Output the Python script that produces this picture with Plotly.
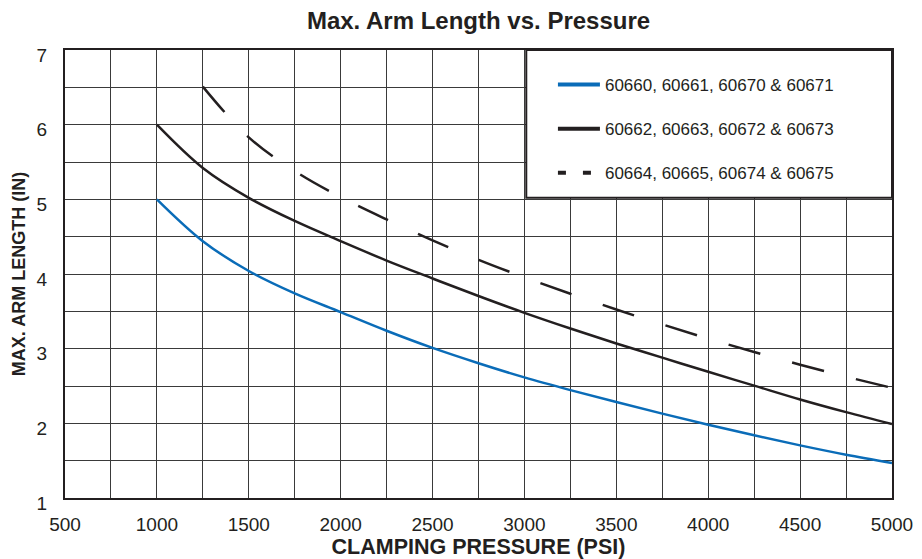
import plotly.graph_objects as go

# Data
pressure = [1000, 1250, 1500, 1750, 2000, 2250, 2500, 2750, 3000,
            3250, 3500, 3750, 4000, 4250, 4500, 4750, 5000]
arm_blue = [5.0, 4.44, 4.04, 3.74, 3.49, 3.24, 3.01, 2.805, 2.615,
            2.445, 2.285, 2.13, 1.98, 1.84, 1.705, 1.58, 1.47]
arm_black = [6.0, 5.42, 5.02, 4.71, 4.44, 4.18, 3.94, 3.705, 3.48,
             3.27, 3.07, 2.88, 2.69, 2.505, 2.32, 2.15, 1.99]
pressure_dash = [1250, 1500, 1750, 2000, 2250, 2500, 2750, 3000,
                 3250, 3500, 3750, 4000, 4250, 4500, 4750, 5000]
arm_dash = [6.51, 5.83, 5.38, 5.03, 4.73, 4.45, 4.19, 3.955,
            3.735, 3.525, 3.325, 3.135, 2.955, 2.785, 2.625, 2.475]

names = ["60660, 60661, 60670 & 60671",
         "60662, 60663, 60672 & 60673",
         "60664, 60665, 60674 & 60675"]

x_ticks = [500, 1000, 1500, 2000, 2500, 3000, 3500, 4000, 4500, 5000]
y_ticks = [1, 2, 3, 4, 5, 6, 7]

FONT = "Liberation Sans, Arial, sans-serif"
INK = "#231f20"
BLUE = "#0a6cb8"
GRID = "#3a3a3a"

fig = go.Figure()
# plotted curves
fig.add_trace(go.Scatter(x=pressure, y=arm_blue, mode="lines", showlegend=False,
                         line=dict(color=BLUE, width=2.5, shape="spline")))
fig.add_trace(go.Scatter(x=pressure, y=arm_black, mode="lines", showlegend=False,
                         line=dict(color=INK, width=2.5, shape="spline")))
fig.add_trace(go.Scatter(x=pressure_dash, y=arm_dash, mode="lines", showlegend=False,
                         line=dict(color=INK, width=2.5, shape="spline", dash="33px,33px")))
# legend entries (thicker sample strokes as in the reference)
fig.add_trace(go.Scatter(x=[None], y=[None], mode="lines", name=names[0], legendgroup="a",
                         line=dict(color=BLUE, width=4)))
fig.add_trace(go.Scatter(x=[None], y=[None], mode="lines", name=names[1], legendgroup="b",
                         line=dict(color=INK, width=4)))
fig.add_trace(go.Scatter(x=[None], y=[None], mode="lines", name=names[2], legendgroup="c",
                         line=dict(color=INK, width=4, dash="8px,17px")))

# Legend box (white panel with dark border)
fig.add_shape(type="rect", xref="x", yref="y", x0=3010, x1=5000, y0=5.02, y1=7,
              fillcolor="white", line=dict(color=INK, width=2), layer="between")

fig.update_xaxes(range=[500, 5000], tickvals=x_ticks,
                 showgrid=True, gridcolor=GRID, gridwidth=1,
                 minor=dict(dtick=250, tick0=500, showgrid=True, gridcolor=GRID, gridwidth=1),
                 showline=True, linecolor=INK, linewidth=2, mirror=True,
                 ticks="", ticklabelstandoff=8, automargin=False,
                 tickfont=dict(family=FONT, size=19, color=INK),
                 title=dict(text="<b>CLAMPING PRESSURE (PSI)</b>", standoff=16,
                            font=dict(family=FONT, size=21.5, color=INK)),
                 zeroline=False)
fig.update_yaxes(range=[1, 7], tickvals=y_ticks,
                 showgrid=True, gridcolor=GRID, gridwidth=1,
                 minor=dict(dtick=0.5, tick0=1, showgrid=True, gridcolor=GRID, gridwidth=1),
                 showline=True, linecolor=INK, linewidth=2, mirror=True,
                 ticks="", ticklabelstandoff=12, ticklabelshift=5, automargin=False,
                 tickfont=dict(family=FONT, size=19, color=INK),
                 title=dict(text="<b>MAX. ARM LENGTH (IN)</b>", standoff=6,
                            font=dict(family=FONT, size=18, color=INK)),
                 zeroline=False)

fig.update_layout(
    width=922, height=559,
    margin=dict(l=65, r=30, t=50, b=61),
    paper_bgcolor="white", plot_bgcolor="white",
    title=dict(text="<b>Max. Arm Length vs. Pressure</b>", x=0.519, xanchor="center",
               y=0.963, yanchor="middle",
               font=dict(family=FONT, size=24, color=INK)),
    legend=dict(x=0.59, y=0.962, xanchor="left", yanchor="top",
                bgcolor="rgba(0,0,0,0)", borderwidth=0,
                font=dict(family=FONT, size=17, color=INK),
                tracegroupgap=19, itemwidth=42),
    showlegend=True,
)

fig.write_html("out.html", config={"displayModeBar": False},
               post_script="document.body.style.margin='0';")
